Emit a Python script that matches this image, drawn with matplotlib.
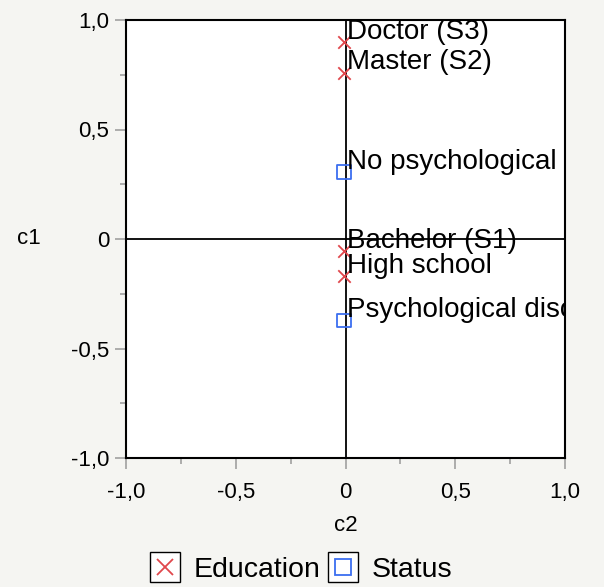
import matplotlib.pyplot as plt
from matplotlib.lines import Line2D
from matplotlib.ticker import FuncFormatter, MultipleLocator

plt.rcParams["font.family"] = ["Liberation Sans", "DejaVu Sans"]

# row coordinates (c2, c1)
edu_labels = ["Doctor (S3)", "Master (S2)", "Bachelor (S1)", "High school"]
edu_c2 = [-0.005, -0.005, -0.005, -0.005]
edu_c1 = [0.90, 0.76, -0.055, -0.17]

status_labels = ["No psychological disorder", "Psychological disorder"]
status_c2 = [-0.005, -0.005]
status_c1 = [0.305, -0.372]

bg = "#f5f5f2"
fig = plt.figure(figsize=(6.04, 5.87), dpi=100, facecolor=bg)
ax = fig.add_axes([126 / 604, 1 - 458 / 587, 439 / 604, 438 / 587])
ax.set_facecolor("white")

ax.axhline(0, color="black", lw=1.3, zorder=1)
ax.axvline(0, color="black", lw=1.3, zorder=1)

ax.scatter(edu_c2, edu_c1, marker="x", s=80, color="#e0474c", linewidths=1.3, zorder=3)
ax.scatter(status_c2, status_c1, marker="s", s=100, facecolors="none",
           edgecolors="#3c6ef0", linewidths=1.3, zorder=3)

# labels are clipped at the plot frame
for x, y, t in zip(edu_c2 + status_c2, edu_c1 + status_c1, edu_labels + status_labels):
    ax.annotate(t, (x, y), xytext=(2, -2), textcoords="offset points",
                ha="left", va="bottom", fontsize=20, clip_on=True, zorder=4)

ax.set_xlim(-1, 1)
ax.set_ylim(-1, 1)
fmt = FuncFormatter(lambda v, p: "0" if abs(v) < 1e-9 else f"{v:.1f}".replace(".", ","))
for axis in (ax.xaxis, ax.yaxis):
    axis.set_major_locator(MultipleLocator(0.5))
    axis.set_minor_locator(MultipleLocator(0.25))
    axis.set_major_formatter(fmt)
ax.tick_params(which="major", length=8, width=1.2, color="#a0a0a0", labelsize=16, pad=4)
ax.tick_params(which="minor", length=4, width=1.2, color="#a0a0a0")
ax.tick_params(axis="x", which="major", pad=9)
for s in ax.spines.values():
    s.set_linewidth(1.5)

ax.set_xlabel("c2", fontsize=16, labelpad=9)
ax.set_ylabel("c1", fontsize=16, rotation=0, labelpad=30, va="center")

edu_handle = (Line2D([], [], marker="s", ms=21, mfc="white", mec="black", mew=1, ls="none"),
              Line2D([], [], marker="x", ms=11, color="#e0474c", mew=1.3, ls="none"))
st_handle = (Line2D([], [], marker="s", ms=21, mfc="white", mec="black", mew=1, ls="none"),
             Line2D([], [], marker="s", ms=11, mfc="none", mec="#3c6ef0", mew=1.3, ls="none"))
fig.legend([edu_handle, st_handle], ["Education", "Status"], loc="center",
           bbox_to_anchor=(300 / 604, 1 - 570 / 587), ncol=2, frameon=False,
           fontsize=20.5, handlelength=1.2, handletextpad=0.4, columnspacing=0.2)

fig.savefig("out.png", dpi=100, facecolor=bg)
